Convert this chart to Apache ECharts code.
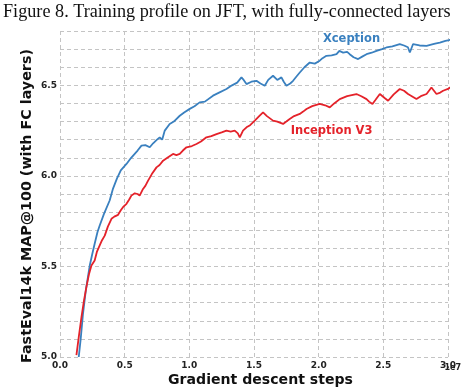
<!DOCTYPE html>
<html><head><meta charset="utf-8">
<script src="https://cdn.jsdelivr.net/npm/echarts@6/dist/echarts.min.js"></script>
<style>html,body{margin:0;padding:0;background:#fff}#c{width:464px;height:389px}</style>
</head><body><div id="c"></div>
<script>
const titleText = "Figure 8. Training profile on JFT, with fully-connected layers";
const xTitle = "Gradient descent steps";
const yTitle = "FastEval14k MAP@100 (with FC layers)";
const xTicks = [0, 0.5, 1.0, 1.5, 2.0, 2.5, 3.0];
const yTickLabels = [5.0, 5.5, 6.0, 6.5];
// steps in units of 1e7
const xceptionSteps = [0.145,0.16,0.178,0.20,0.23,0.25,0.268,0.29,0.307,0.34,0.384,0.41,0.44,0.47,0.514,0.55,0.60,0.63,0.66,0.694,0.72,0.75,0.771,0.79,0.81,0.848,0.88,0.926,0.96,1.003,1.04,1.08,1.12,1.183,1.23,1.287,1.33,1.37,1.403,1.42,1.442,1.48,1.519,1.55,1.583,1.61,1.647,1.68,1.712,1.73,1.751,1.78,1.802,1.83,1.854,1.89,1.931,1.97,2.008,2.03,2.06,2.10,2.138,2.16,2.189,2.22,2.24,2.27,2.305,2.34,2.37,2.41,2.447,2.49,2.524,2.57,2.627,2.66,2.69,2.705,2.73,2.78,2.834,2.87,2.90,2.937,2.98,3.01,3.053];
const xceptionMAP = [5.00,5.10,5.24,5.37,5.505,5.57,5.625,5.69,5.726,5.79,5.864,5.93,5.985,6.03,6.066,6.10,6.14,6.167,6.17,6.158,6.18,6.20,6.213,6.20,6.25,6.287,6.30,6.332,6.35,6.37,6.385,6.406,6.41,6.443,6.46,6.48,6.50,6.515,6.544,6.53,6.507,6.52,6.525,6.51,6.498,6.53,6.553,6.53,6.544,6.52,6.498,6.51,6.525,6.55,6.571,6.60,6.626,6.62,6.636,6.65,6.663,6.665,6.672,6.69,6.681,6.685,6.672,6.655,6.645,6.66,6.672,6.68,6.69,6.70,6.709,6.715,6.728,6.72,6.71,6.681,6.728,6.72,6.718,6.725,6.73,6.736,6.745,6.75,6.764];
const inceptionSteps = [0.127,0.145,0.166,0.185,0.204,0.225,0.243,0.268,0.285,0.307,0.325,0.346,0.37,0.398,0.42,0.449,0.47,0.487,0.514,0.535,0.552,0.578,0.60,0.616,0.642,0.66,0.681,0.71,0.746,0.77,0.797,0.83,0.874,0.90,0.926,0.95,0.978,1.02,1.055,1.09,1.132,1.17,1.21,1.25,1.287,1.32,1.351,1.375,1.39,1.415,1.442,1.47,1.506,1.54,1.57,1.60,1.647,1.68,1.725,1.75,1.776,1.81,1.854,1.88,1.906,1.95,2.008,2.05,2.086,2.12,2.163,2.22,2.292,2.33,2.37,2.39,2.416,2.44,2.473,2.51,2.537,2.58,2.627,2.66,2.691,2.72,2.756,2.79,2.834,2.872,2.911,2.94,2.962,3.00,3.039];
const inceptionMAP = [5.01,5.11,5.22,5.31,5.386,5.46,5.505,5.533,5.58,5.616,5.645,5.67,5.72,5.763,5.775,5.785,5.81,5.827,5.846,5.87,5.891,5.904,5.90,5.891,5.928,5.945,5.974,6.01,6.047,6.06,6.084,6.10,6.121,6.115,6.121,6.14,6.158,6.165,6.176,6.19,6.213,6.22,6.231,6.24,6.25,6.245,6.25,6.235,6.213,6.25,6.268,6.28,6.305,6.33,6.351,6.33,6.305,6.30,6.287,6.30,6.314,6.33,6.342,6.355,6.369,6.385,6.397,6.39,6.378,6.40,6.424,6.44,6.452,6.44,6.424,6.41,6.397,6.42,6.452,6.43,6.415,6.45,6.48,6.47,6.452,6.44,6.424,6.44,6.452,6.488,6.452,6.46,6.47,6.48,6.498];
const seriesNames = ["Xception", "Inception V3"];
const labelPos = [[2.254, 6.755], [2.10, 6.25]];

const BLUE = "#3a80bf", RED = "#e4222a";
const chart = echarts.init(document.getElementById('c'), null, {renderer:'canvas'});
const zip = (a,b)=>a.map((v,i)=>[v,b[i]]);
const lblFont = {fontFamily:'DejaVu Sans', fontWeight:'bold', fontSize:9, color:'#222'};
chart.setOption({
  animation:false,
  backgroundColor:'#fff',
  title:{text:titleText, left:3, top:3, padding:0, textStyle:{fontFamily:'Liberation Serif', fontWeight:'normal', fontSize:18.2, color:'#111'}},
  grid:{left:60, top:31, right:16, bottom:32},
  xAxis:{type:'value', min:xTicks[0], max:xTicks[xTicks.length-1], interval:0.5,
    axisLine:{show:false}, axisTick:{show:false},
    axisLabel:Object.assign({margin:4, formatter:v=>v.toFixed(1)}, lblFont),
    splitLine:{show:true, lineStyle:{type:[4,3], color:'#c4c4c4', width:1}}},
  yAxis:{type:'value', min:5.0, max:6.8, interval:0.1,
    axisLine:{show:false}, axisTick:{show:false},
    axisLabel:Object.assign({margin:3, verticalAlignMinLabel:'middle', verticalAlignMaxLabel:'middle', formatter:v=>{
      const hit = yTickLabels.find(t=>Math.abs(t-v)<1e-6);
      return hit===undefined ? '' : hit.toFixed(1);}}, lblFont),
    splitLine:{show:true, lineStyle:{type:[4,3], color:'#c4c4c4', width:1}}},
  graphic:[
    {type:'text', right:3, top:364, style:{text:'1e7', font:'bold 8px "DejaVu Sans"', fill:'#222'}},
    {type:'text', x:260.5, y:380, style:{text:xTitle, font:'bold 14.1px "DejaVu Sans"', fill:'#111', textAlign:'center', textVerticalAlign:'middle'}},
    {type:'text', x:27, y:206, rotation:Math.PI/2, style:{text:yTitle, font:'bold 14.3px "DejaVu Sans"', fill:'#111', textAlign:'center', textVerticalAlign:'middle'}}
  ],
  series:[
    {name:seriesNames[0], type:'line', data:zip(xceptionSteps, xceptionMAP), showSymbol:false, clip:false,
     lineStyle:{color:BLUE, width:1.8}, itemStyle:{color:BLUE},
     markPoint:{symbolSize:0, data:[{coord:labelPos[0], label:{show:true, formatter:seriesNames[0], color:BLUE, fontFamily:'DejaVu Sans', fontWeight:'bold', fontSize:11.5}}]}},
    {name:seriesNames[1], type:'line', data:zip(inceptionSteps, inceptionMAP), showSymbol:false, clip:false,
     lineStyle:{color:RED, width:1.8}, itemStyle:{color:RED},
     markPoint:{symbolSize:0, data:[{coord:labelPos[1], label:{show:true, formatter:seriesNames[1], color:RED, fontFamily:'DejaVu Sans', fontWeight:'bold', fontSize:11.5}}]}}
  ]
});
</script></body></html>
